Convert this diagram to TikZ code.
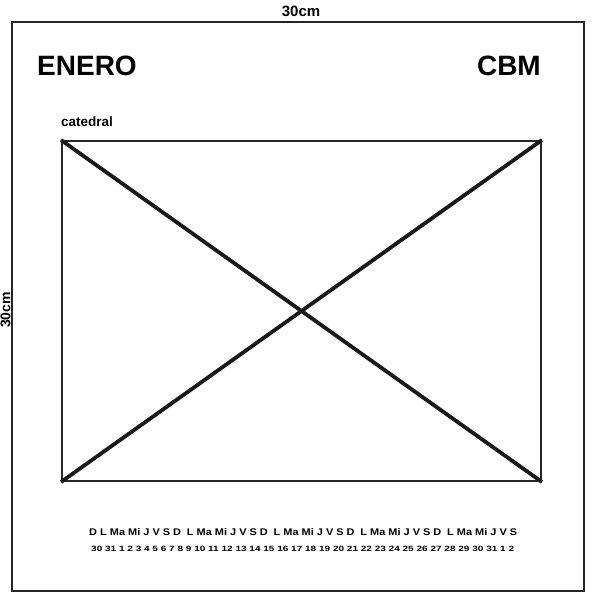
\documentclass[tikz,border=0pt]{standalone}
\usepackage{fontspec}
\setmainfont{Liberation Sans}
\usepackage{graphicx}
\begin{document}
\begin{tikzpicture}[x=1pt,y=-1pt,
  lbl/.style={inner sep=0pt,font=\bfseries},
  frame/.style={draw=black!85,line width=2pt,inner sep=0pt},
  diag/.style={line width=3.8pt,black!90}]
\useasboundingbox (0,0) rectangle (597,605);
% outer frame
\node[frame,minimum width=572pt,minimum height=569pt] (outer) at (298,306.5) {};
% dimension labels
\node[lbl,font=\bfseries\fontsize{15}{15}\selectfont] (wdim) at (301,11) {30cm};
\node[lbl,font=\bfseries\fontsize{14}{14}\selectfont,rotate=90] (hdim) at (5.5,310) {30cm};
% titles
\node[lbl,font=\bfseries\fontsize{28}{28}\selectfont,anchor=base west] (mes) at (37,75) {ENERO};
\node[lbl,font=\bfseries\fontsize{28}{28}\selectfont,anchor=base east] (cbm) at (541,75) {CBM};
\node[lbl,font=\bfseries\fontsize{13.5}{13.5}\selectfont,anchor=base west] (cat) at (61,126.5) {catedral};
% picture frame with cross
\node[frame,minimum width=479pt,minimum height=340pt] (pic) at (301.5,311) {};
\draw[diag] (pic.north west) -- (pic.south east);
\draw[diag] (pic.north east) -- (pic.south west);
% calendar rows
\node[lbl,anchor=base west] (dias) at (89,535.5)
  {\resizebox{428pt}{7pt}{D L Ma Mi J V S D\hspace{0.25em} L Ma Mi J V S D\hspace{0.25em} L Ma Mi J V S D\hspace{0.25em} L Ma Mi J V S D\hspace{0.25em} L Ma Mi J V S}};
\node[lbl,anchor=base west] (nums) at (91,551.3)
  {\resizebox{423pt}{5.3pt}{30 31 1 2 3 4 5 6 7 8 9 10 11 12 13 14 15 16 17 18 19 20 21 22 23 24 25 26 27 28 29 30 31 1 2}};
\end{tikzpicture}
\end{document}
